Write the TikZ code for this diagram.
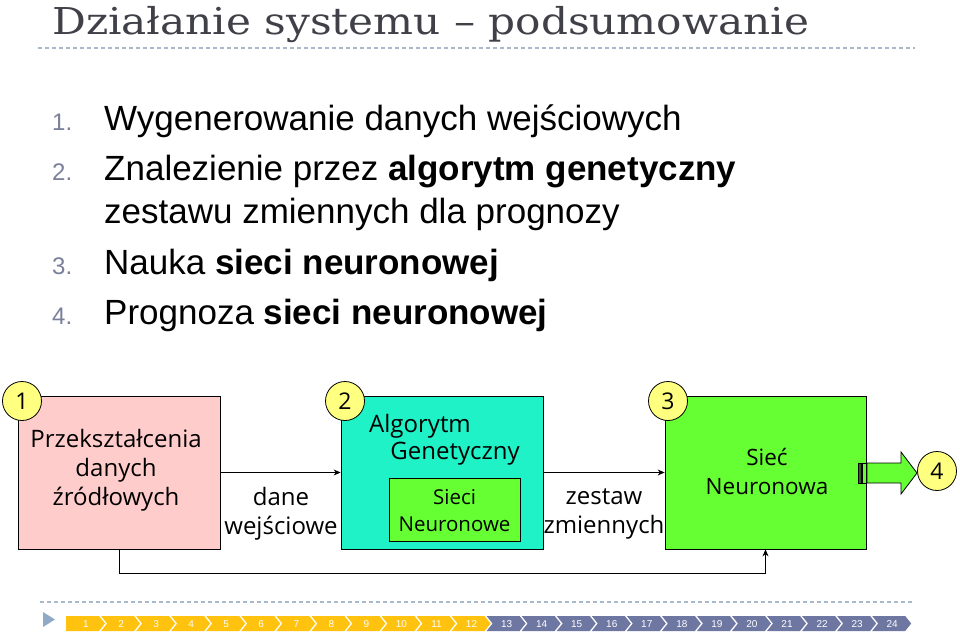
\documentclass[tikz,border=0pt]{standalone}
\usepackage{fontspec}
\setmainfont{Liberation Sans}
\newfontfamily\titlefont{DejaVu Serif}
\newfontfamily\boxfont{Open Sans}
\usetikzlibrary{arrows.meta}
\definecolor{titlegray}{HTML}{404048}
\definecolor{numgray}{HTML}{7A7F9A}
\definecolor{dashcol}{HTML}{A9B9CC}
\definecolor{pinkbox}{HTML}{FFCCCC}
\definecolor{cyanbox}{HTML}{1EF2C6}
\definecolor{greenbox}{HTML}{66FF33}
\definecolor{badgeyellow}{HTML}{FFFF80}
\definecolor{navyellow}{HTML}{FFC20E}
\definecolor{navslate}{HTML}{6E77A2}
\definecolor{navtri}{HTML}{8FA9C6}
\tikzset{
  bigbox/.style={draw=black, line width=0.8pt, minimum width=202pt, minimum height=153pt, inner sep=0pt},
  badge/.style={circle, draw=black, line width=0.8pt, fill=badgeyellow, minimum size=39pt, inner sep=0pt, font=\boxfont\fontsize{23}{26}\selectfont},
  boxtext/.style={inner sep=0pt, align=center, font=\boxfont\fontsize{24}{29}\selectfont},
  conn/.style={draw=black, line width=0.8pt, -{Stealth[length=7pt,width=6pt]}},
  numtxt/.style={anchor=base west, inner sep=0pt, text=numgray, font=\fontsize{24}{28}\selectfont},
  itemtxt/.style={anchor=base west, inner sep=0pt, text=black, font=\fontsize{35}{40}\selectfont},
  navtxt/.style={inner sep=0pt, text=white, font=\fontsize{10}{11}\selectfont}
}
\begin{document}
\begin{tikzpicture}[x=1pt,y=-1pt]
\useasboundingbox (0,0) rectangle (960,632);
% title
\node[anchor=base west, inner sep=0pt, text=titlegray, font=\titlefont\fontsize{37}{42}\selectfont] (title) at (52,34) {\scalebox{1.14}[1]{Działanie systemu – podsumowanie}};
\draw[dashcol, line width=1.2pt, dash pattern=on 4pt off 3pt] (38,48) -- (915,48);
% list
\node[numtxt] (n1) at (52,130) {1.};
\node[itemtxt] (t1) at (104,130) {Wygenerowanie danych wejściowych};
\node[numtxt] (n2) at (52,180) {2.};
\node[itemtxt] (t2) at (104,180) {Znalezienie przez \textbf{algorytm genetyczny}};
\node[itemtxt] (t2b) at (104,223) {zestawu zmiennych dla prognozy};
\node[numtxt] (n3) at (52,274) {3.};
\node[itemtxt] (t3) at (104,274) {Nauka \textbf{sieci neuronowej}};
\node[numtxt] (n4) at (52,324) {4.};
\node[itemtxt] (t4) at (104,324) {Prognoza \textbf{sieci neuronowej}};
% boxes
\node[bigbox, fill=pinkbox] (box1) at (119,472.5) {};
\node[bigbox, fill=cyanbox] (box2) at (442,472.5) {};
\node[bigbox, fill=greenbox, minimum width=201pt] (box3) at (765.5,472.5) {};
\node[draw=black, line width=0.8pt, fill=greenbox, minimum width=131pt, minimum height=63pt, inner sep=0pt] (inner) at (454.5,509.5) {};
% texts
\node[boxtext] (b1t) at (116,470.5) {Przekształcenia\\danych\\źródłowych};
\node[boxtext] (b2a) at (420,426) {Algorytm};
\node[boxtext] (b2b) at (455,454) {Genetyczny};
\node[boxtext, font=\boxfont\fontsize{20.5}{27}\selectfont] (innt) at (454.5,511) {Sieci\\Neuronowe};
\node[boxtext, font=\boxfont\fontsize{22.5}{29}\selectfont] (b3t) at (767,471) {Sieć\\Neuronowa};
\node[boxtext] (l1) at (281,513.5) {dane\\wejściowe};
\node[boxtext] (l2) at (604,513.5) {zestaw\\zmiennych};
% badges
\node[badge] (c1) at (22,401) {1};
\node[badge] (c2) at (345,401) {2};
\node[badge] (c3) at (668,401) {3};
% connectors
\draw[conn] (box1.east) -- (box2.west);
\draw[conn] (box2.east) -- (box3.west);
\draw[conn] (box1.south) -- ++(0,24) -| (box3.south);
% fat striped arrow
\draw[black, line width=0.8pt, fill=greenbox!40!black] (858,463) rectangle (861,483);
\draw[black, line width=0.8pt, fill=greenbox] (862.5,463) rectangle (866,483);
\draw[black, line width=0.8pt, fill=greenbox] (867,463) -- (901,463) -- (901,452) -- (917,473) -- (901,494) -- (901,483) -- (867,483) -- cycle;
\node[badge] (c4) at (937,471) {4};
% nav
\draw[dashcol, line width=1.2pt, dash pattern=on 4pt off 3pt] (40,602) -- (913,602);
\fill[navtri] (43,612) -- (55,619.5) -- (43,627) -- cycle;
\foreach \i in {1,...,24}{
  \pgfmathsetmacro\xa{66+(\i-1)*35.05}
  \pgfmathsetmacro\xb{\xa+33}
  \pgfmathsetmacro\xt{\xb+6}
  \pgfmathsetmacro\xn{\i==1 ? \xa : \xa+6}
  \pgfmathsetmacro\xc{\xa+20}
  \ifnum\i<13 \def\cc{navyellow}\else\def\cc{navslate}\fi
  \fill[\cc] (\xa,616) -- (\xb,616) -- (\xt,623.5) -- (\xb,631) -- (\xa,631) -- (\xn,623.5) -- cycle;
  \node[navtxt] (nav\i) at (\xc,624) {\i};
}
\end{tikzpicture}
\end{document}
